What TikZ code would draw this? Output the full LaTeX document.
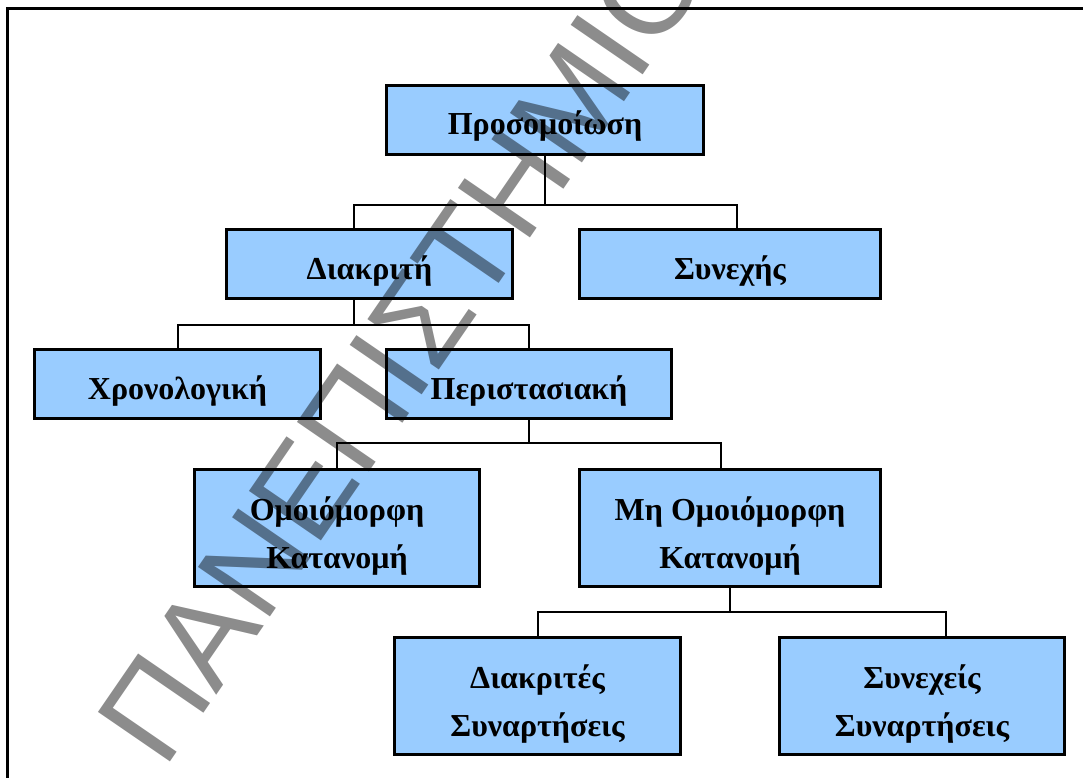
\documentclass[tikz,border=0pt]{standalone}
\usepackage{fontspec}
\setmainfont{Liberation Serif}
\newfontfamily\wmfont{Liberation Sans}
\definecolor{boxblue}{HTML}{99CCFF}
\begin{document}
\begin{tikzpicture}[x=1pt,y=-1pt,
  box/.style={draw=black, line width=3pt, fill=boxblue, inner sep=0pt},
  small/.style={minimum height=69pt},
  tall/.style={minimum height=117pt},
  lbl/.style={inner sep=0pt, anchor=base, font=\fontsize{32}{48}\selectfont\bfseries},
  link/.style={draw=black, line width=2pt},
  frameline/.style={draw=black, line width=3pt},
  wmark/.style={inner sep=0pt, anchor=base west, rotate=55.5,
    font=\wmfont\fontsize{127}{127}\selectfont, text=black, text opacity=0.45}]
\useasboundingbox (0,0) rectangle (1083,778);
\clip (0,0) rectangle (1083,778);

% outer frame (top and left edges)
\draw[frameline] (7,800) -- (7,9) -- (1100,9);

% boxes
\node[box, small, minimum width=317pt] (p)  at (545,120)   {};
\node[box, small, minimum width=286pt] (d)  at (369.5,264) {};
\node[box, small, minimum width=301pt] (s)  at (730,264)   {};
\node[box, small, minimum width=286pt] (x)  at (177.5,384) {};
\node[box, small, minimum width=285pt] (r)  at (529,384)   {};
\node[box, tall,  minimum width=285pt] (o)  at (337,528)   {};
\node[box, tall,  minimum width=301pt] (m)  at (730,528)   {};
\node[box, tall,  minimum width=286pt] (ds) at (537.5,696) {};
\node[box, tall,  minimum width=285pt] (cs) at (922,696)   {};

% junction points of the tree
\coordinate (j1) at (545,205);
\coordinate (j2) at (354,325);
\coordinate (j3) at (529,443);
\coordinate (j4) at (730,612);

% connectors
\draw[link] (p.south) -- (j1);
\draw[link] ([xshift=-15.5pt]d.north) |- (j1) -| ([xshift=7pt]s.north);
\draw[link] ([xshift=-15.5pt]d.south) -- (j2);
\draw[link] (x.north) |- (j2) -| (r.north);
\draw[link] (r.south) -- (j3);
\draw[link] (o.north) |- (j3) -| ([xshift=-9pt]m.north);
\draw[link] (m.south) -- (j4);
\draw[link] (ds.north) |- (j4) -| ([xshift=24pt]cs.north);

% labels
\node[lbl] (pt)  at (545,135)   {Προσομοίωση};
\node[lbl] (dt)  at (369.5,279) {Διακριτή};
\node[lbl] (st)  at (730,279)   {Συνεχής};
\node[lbl] (xt)  at (177.5,399) {Χρονολογική};
\node[lbl] (rt)  at (529,399)   {Περιστασιακή};
\node[lbl] (ot)  at (337,520)   {\begin{tabular}[t]{@{}c@{}}Ομοιόμορφη\\Κατανομή\end{tabular}};
\node[lbl] (mt)  at (730,520)   {\begin{tabular}[t]{@{}c@{}}Μη Ομοιόμορφη\\Κατανομή\end{tabular}};
\node[lbl] (dst) at (537.5,688) {\begin{tabular}[t]{@{}c@{}}Διακριτές\\Συναρτήσεις\end{tabular}};
\node[lbl] (cst) at (922,688)   {\begin{tabular}[t]{@{}c@{}}Συνεχείς\\Συναρτήσεις\end{tabular}};

% watermark
\node[wmark] (wm) at (164,771) {ΠΑΝΕΠΙΣΤΗΜΙΟ};
\end{tikzpicture}
\end{document}
